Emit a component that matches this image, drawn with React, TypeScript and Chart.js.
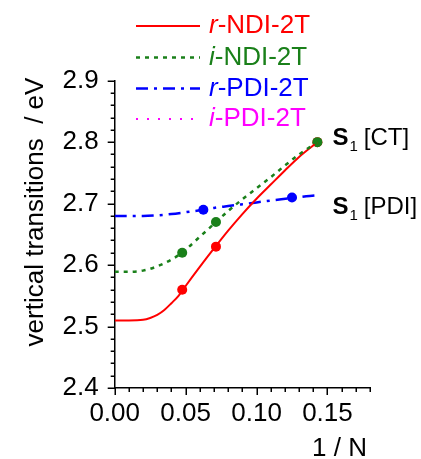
import { useEffect, useRef } from "react";
import { Chart, registerables } from "chart.js";

Chart.register(...registerables);

// ---- data ----
const NDI_INV_N = [0.0476, 0.0714, 0.1429];
const R_NDI_VALUES = [2.56, 2.63, 2.8];
const I_NDI_VALUES = [2.62, 2.67, 2.8];
const PDI_INV_N = [0.0625, 0.125];
const R_PDI_VALUES = [2.69, 2.71];
const I_PDI_VALUES: number[] = [];

const NDI_FIT_X = [0, 0.01, 0.02, 0.025, 0.03, 0.035, 0.04, 0.045, 0.05, 0.06, 0.07, 0.08, 0.09, 0.1, 0.11, 0.12, 0.13, 0.1429];
const R_NDI_FIT = [2.51, 2.51, 2.511, 2.514, 2.519, 2.527, 2.538, 2.55, 2.566, 2.597, 2.627, 2.656, 2.683, 2.708, 2.731, 2.754, 2.776, 2.8];
const I_NDI_FIT = [2.589, 2.589, 2.591, 2.594, 2.598, 2.603, 2.609, 2.616, 2.625, 2.646, 2.667, 2.688, 2.707, 2.725, 2.743, 2.762, 2.78, 2.8];
const PDI_FIT_X = [0, 0.01, 0.02, 0.03, 0.04, 0.05, 0.0625, 0.07, 0.08, 0.09, 0.1, 0.11, 0.125, 0.135, 0.145];
const R_PDI_FIT = [2.68, 2.68, 2.68, 2.681, 2.683, 2.686, 2.69, 2.693, 2.696, 2.699, 2.702, 2.705, 2.709, 2.712, 2.714];

const X_TICKS = [0, 0.05, 0.1, 0.15];
const Y_TICKS = [2.4, 2.5, 2.6, 2.7, 2.8, 2.9];
const X_RANGE = [0, 0.18];
const Y_RANGE = [2.4, 2.9];
const X_MINOR_STEP = 0.01;
const Y_MINOR_STEP = 0.02;

const SERIES_PREFIX = ["r", "i", "r", "i"];
const SERIES_NAME = ["-NDI-2T", "-NDI-2T", "-PDI-2T", "-PDI-2T"];
const ANNOTATION_TEXT = ["[CT]", "[PDI]"];
const ANNOTATION_X = [0.1535, 0.1535];
const ANNOTATION_Y = [2.795, 2.683];

const X_TITLE = "1 / N";
const Y_TITLE = "vertical transitions  / eV";

// ---- styles ----
const RED = "#ff0000";
const GREEN = "#1a801a";
const BLUE = "#0000ff";
const MAGENTA = "#ff00ff";
const FONT = "'Liberation Sans', Arial, sans-serif";
const FS = 26;
const ANN_FS = 24;
const SERIES_COLOR = [RED, GREEN, BLUE, MAGENTA];
const SERIES_DASH = [[], [4, 5], [12, 6, 3, 6], [2, 9]];
const SERIES_WIDTH = [2, 2.5, 2.5, 2];

const toXY = (xs: number[], ys: number[]) => ys.map((y, i) => ({ x: xs[i], y }));

const overlayPlugin = {
  id: "overlay",
  afterDraw(chart: any) {
    const ctx: CanvasRenderingContext2D = chart.ctx;
    const xs = chart.scales.x;
    const ys = chart.scales.y;
    const area = chart.chartArea;
    ctx.save();
    ctx.strokeStyle = "#000";
    ctx.lineWidth = 1.5;
    ctx.setLineDash([]);
    // y ticks
    for (let v = Y_RANGE[0]; v <= Y_RANGE[1] + 1e-9; v += Y_MINOR_STEP) {
      const major = Math.abs(v * 10 - Math.round(v * 10)) < 1e-6;
      const py = Math.round(ys.getPixelForValue(v)) + 0.25;
      ctx.beginPath();
      ctx.moveTo(area.left, py);
      ctx.lineTo(area.left - (major ? 7 : 4), py);
      ctx.stroke();
    }
    // x ticks
    for (let v = X_RANGE[0]; v <= X_RANGE[1] + 1e-9; v += X_MINOR_STEP) {
      const major = Math.abs(v * 20 - Math.round(v * 20)) < 1e-6;
      const px = Math.round(xs.getPixelForValue(v)) + 0.25;
      ctx.beginPath();
      ctx.moveTo(px, area.bottom);
      ctx.lineTo(px, area.bottom + (major ? 7 : 4));
      ctx.stroke();
    }
    // axis titles
    ctx.fillStyle = "#000";
    ctx.font = `${FS}px ${FONT}`;
    ctx.textAlign = "right";
    ctx.textBaseline = "alphabetic";
    ctx.fillText(X_TITLE, area.right - 3, 456);
    ctx.save();
    ctx.translate(43, 212);
    ctx.rotate(-Math.PI / 2);
    ctx.textAlign = "center";
    ctx.fillText(Y_TITLE, 0, 0);
    ctx.restore();

    // legend
    const rowY = [26, 57.5, 88.5, 119];
    for (let i = 0; i < SERIES_NAME.length; i++) {
      const y = rowY[i];
      ctx.strokeStyle = SERIES_COLOR[i];
      ctx.lineWidth = SERIES_WIDTH[i];
      ctx.setLineDash(SERIES_DASH[i]);
      ctx.beginPath();
      ctx.moveTo(136, y);
      ctx.lineTo(200, y);
      ctx.stroke();
      ctx.setLineDash([]);
      ctx.fillStyle = SERIES_COLOR[i];
      ctx.textAlign = "left";
      ctx.textBaseline = "middle";
      ctx.font = `italic ${FS}px ${FONT}`;
      ctx.fillText(SERIES_PREFIX[i], 209, y);
      const w = ctx.measureText(SERIES_PREFIX[i]).width;
      ctx.font = `${FS}px ${FONT}`;
      ctx.fillText(SERIES_NAME[i], 209 + w, y);
    }

    // annotations
    ctx.fillStyle = "#000";
    ctx.textAlign = "left";
    ctx.textBaseline = "alphabetic";
    for (let i = 0; i < ANNOTATION_TEXT.length; i++) {
      const px = xs.getPixelForValue(ANNOTATION_X[i]);
      const py = ys.getPixelForValue(ANNOTATION_Y[i]);
      ctx.font = `bold ${ANN_FS}px ${FONT}`;
      ctx.fillText("S", px, py);
      let x = px + ctx.measureText("S").width + 1;
      ctx.font = `15px ${FONT}`;
      ctx.fillText("1", x, py + 6);
      x += ctx.measureText("1").width + 6;
      ctx.font = `${ANN_FS}px ${FONT}`;
      ctx.fillText(ANNOTATION_TEXT[i], x, py);
    }
    ctx.restore();
  },
};

export default function App() {
  const ref = useRef<HTMLCanvasElement | null>(null);
  useEffect(() => {
    if (!ref.current) return;
    const lineDs = (label: string, xs: number[], ys: number[], i: number) => ({
      type: "line" as const,
      label,
      data: toXY(xs, ys),
      borderColor: SERIES_COLOR[i],
      backgroundColor: SERIES_COLOR[i],
      borderWidth: SERIES_WIDTH[i],
      borderDash: SERIES_DASH[i],
      borderCapStyle: "butt" as const,
      pointRadius: 0,
      cubicInterpolationMode: "monotone" as const,
      fill: false,
    });
    const pointDs = (label: string, xs: number[], ys: number[], i: number) => ({
      type: "scatter" as const,
      label,
      data: toXY(xs, ys),
      borderColor: SERIES_COLOR[i],
      backgroundColor: SERIES_COLOR[i],
      pointRadius: 5,
      pointBorderWidth: 0,
      showLine: false,
    });
    const chart = new Chart(ref.current, {
      type: "line",
      data: {
        datasets: [
          lineDs("i-NDI-2T fit", NDI_FIT_X, I_NDI_FIT, 1),
          lineDs("r-NDI-2T fit", NDI_FIT_X, R_NDI_FIT, 0),
          lineDs("r-PDI-2T fit", PDI_FIT_X, R_PDI_FIT, 2),
          lineDs("i-PDI-2T fit", PDI_INV_N, I_PDI_VALUES, 3),
          pointDs("i-NDI-2T", NDI_INV_N, I_NDI_VALUES, 1),
          pointDs("r-NDI-2T", NDI_INV_N, R_NDI_VALUES, 0),
          pointDs("r-PDI-2T", PDI_INV_N, R_PDI_VALUES, 2),
        ] as any,
      },
      options: {
        animation: false,
        responsive: false,
        maintainAspectRatio: false,
        layout: { padding: { left: 0, top: 80.7, right: 51, bottom: 0 } },
        plugins: { legend: { display: false }, tooltip: { enabled: false }, title: { display: false } },
        scales: {
          x: {
            type: "linear",
            min: X_RANGE[0],
            max: X_RANGE[1],
            grid: { display: true, drawOnChartArea: false, drawTicks: false },
            border: { display: true, color: "#000", width: 1.5 },
            ticks: {
              padding: 10,
              color: "#000",
              font: { family: FONT, size: FS },
              autoSkip: false,
              maxRotation: 0,
              callback: (v: any) => Number(v).toFixed(2),
            },
            afterBuildTicks: (s: any) => {
              s.ticks = X_TICKS.map((value) => ({ value }));
            },
            afterFit: (s: any) => {
              s.height = 71;
            },
          },
          y: {
            type: "linear",
            min: Y_RANGE[0],
            max: Y_RANGE[1],
            grid: { display: true, drawOnChartArea: false, drawTicks: false },
            border: { display: true, color: "#000", width: 1.5 },
            ticks: {
              padding: 16,
              color: "#000",
              font: { family: FONT, size: FS },
              autoSkip: false,
              callback: (v: any) => Number(v).toFixed(1),
            },
            afterBuildTicks: (s: any) => {
              s.ticks = Y_TICKS.map((value) => ({ value }));
            },
            afterFit: (s: any) => {
              s.width = 114.7;
            },
          },
        },
      },
      plugins: [overlayPlugin],
    });
    return () => chart.destroy();
  }, []);
  return (
    <div style={{ position: "fixed", left: 0, top: 0, width: 421, height: 459, background: "#fff" }}>
      <canvas ref={ref} width={421} height={459} style={{ width: 421, height: 459, display: "block" }} />
    </div>
  );
}
